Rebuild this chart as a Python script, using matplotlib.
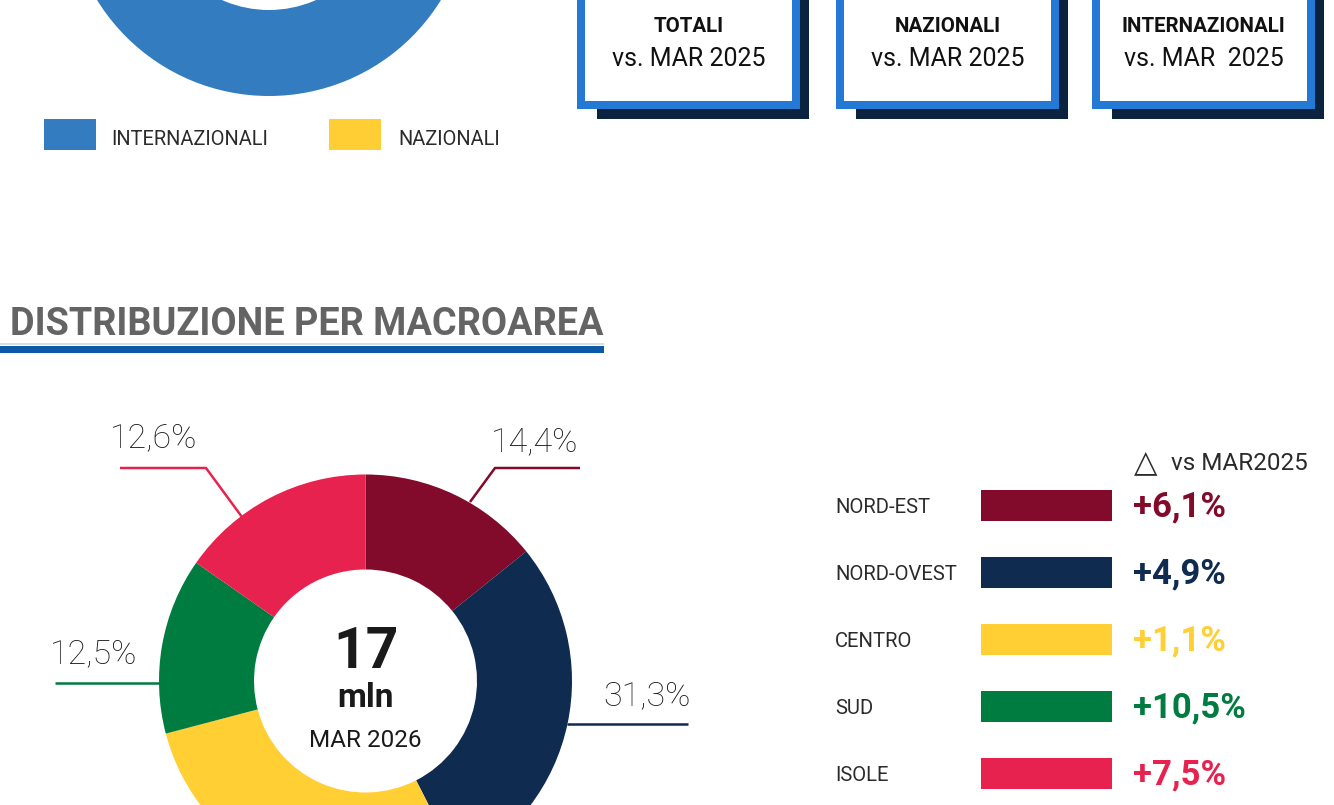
import matplotlib
matplotlib.use("Agg")
import matplotlib.pyplot as plt
from matplotlib.patches import Rectangle

plt.rcParams['font.family'] = ['Roboto', 'DejaVu Sans']

# --- dati ---
aree = ["NORD-EST", "NORD-OVEST", "CENTRO", "SUD", "ISOLE"]
# ampiezza delle fette come appaiono nel disegno (%)
quote_fette = [14.2, 28.3, 28.4, 13.8, 15.3]
etichette_quota = ["14,4%", "31,3%", "", "12,5%", "12,6%"]
variazioni = ["+6,1%", "+4,9%", "+1,1%", "+10,5%", "+7,5%"]
colori_aree = ["#820a2b", "#0f2b4f", "#ffcf33", "#007c40", "#e8224f"]

legenda_top = ["INTERNAZIONALI", "NAZIONALI"]
colori_top = ["#347cc0", "#ffce34"]
box_titoli = ["TOTALI", "NAZIONALI", "INTERNAZIONALI"]
box_sottotitoli = ["vs. MAR 2025", "vs. MAR 2025", "vs. MAR  2025"]

totale = "17"
unita = "mln"
periodo = "MAR 2026"

# --- figura in coordinate pixel ---
fig = plt.figure(figsize=(13.34, 8.05), dpi=100)
ax = fig.add_axes([0, 0, 1, 1])

TXT = "#2b2b2b"

# ciambella superiore (solo parte inferiore visibile)
ax.pie([1], colors=[colori_top[0]], center=(269, -106), radius=202,
       wedgeprops=dict(width=86, linewidth=0))

# legenda superiore
for x_r, x_t, lab, col in zip([44, 329], [111, 398], legenda_top, colori_top):
    ax.add_patch(Rectangle((x_r, 119), 52, 31, color=col, lw=0))
    ax.text(x_t, 145, lab, fontsize=14.4, color=TXT, weight='normal', va='baseline')

# riquadri in alto a destra
box_x = [577, 836, 1092]
for bx, tit, sub in zip(box_x, box_titoli, box_sottotitoli):
    ax.add_patch(Rectangle((bx + 20, -20), 212, 139, color="#0c2340", lw=0))
    ax.add_patch(Rectangle((bx, -20), 223, 129, color="#2379d4", lw=0))
    ax.add_patch(Rectangle((bx + 8, -20), 207, 121, color="white", lw=0))
    cx = bx + 111.5
    ax.text(cx, 32, tit, fontsize=14.8, weight='bold',
            color="#111111", ha='center', va='baseline')
    ax.text(cx, 66, sub, fontsize=18, weight='normal', color="#111111",
            ha='center', va='baseline')

# titolo sezione
ax.text(10, 335, "DISTRIBUZIONE PER MACROAREA", fontsize=27.3, weight='bold',
        color="#646464", va='baseline')
ax.add_patch(Rectangle((0, 343.5), 604, 1.2, color="#d9dde3", lw=0))
ax.add_patch(Rectangle((0, 346), 604, 7, color="#0a58a8", lw=0))

# ciambella macroaree
cx, cy, R = 365.5, 681, 206.5
ax.pie(quote_fette, colors=colori_aree, center=(cx, cy), radius=R,
       startangle=-90, counterclock=True,
       wedgeprops=dict(width=95, linewidth=0))

# linee guida ed etichette percentuali
guide = {
    "ISOLE": ([120, 206, 242], [468, 468, 517]),
    "NORD-EST": ([580, 495, 470], [468, 468, 502]),
    "SUD": ([55, 160], [683, 683]),
    "NORD-OVEST": ([567, 688], [723.5, 723.5]),
}
pos_etichette = {
    "ISOLE": (110, 447, 'left'),
    "NORD-EST": (578, 451, 'right'),
    "SUD": (50, 663, 'left'),
    "NORD-OVEST": (603, 705, 'left'),
}
for area, lab, col in zip(aree, etichette_quota, colori_aree):
    if area in guide:
        xs, ys = guide[area]
        ax.plot(xs, ys, color=col, lw=1.8, solid_capstyle='butt')
        x, y, ha = pos_etichette[area]
        ax.text(x, y, lab, fontsize=24.5, weight='light', color="#1a1a1a",
                ha=ha, va='baseline')

# testo centrale
ax.text(cx, 668, totale, fontsize=41, weight='bold',
        color="#1a1a1a", ha='center', va='baseline')
ax.text(cx, 707, unita, fontsize=24, weight='bold', color="#1a1a1a",
        ha='center', va='baseline')
ax.text(cx, 747, periodo, fontsize=17.5, weight='normal', color="#1a1a1a",
        ha='center', va='baseline')

# legenda destra con variazioni
ax.text(1134, 471, "\u25b3", fontsize=22, family=['DejaVu Sans'],
        color=TXT, va='baseline')
ax.text(1171, 470, "vs MAR2025", fontsize=17.5, weight='normal',
        color=TXT, va='baseline')
y_righe = [505.5, 572.5, 639.5, 706.5, 773.5]
ax.barh(y_righe, [131] * len(aree), left=981, height=31,
        color=colori_aree, linewidth=0)
for y, area, var, col in zip(y_righe, aree, variazioni, colori_aree):
    ax.text(835, y + 7.5, area, fontsize=14.6, weight='normal', color=TXT,
            va='baseline')
    ax.text(1133, y + 11, var, fontsize=25, weight='bold', color=col,
            va='baseline')

ax.set_xlim(0, 1334)
ax.set_ylim(805, 0)
ax.set_aspect('auto')
ax.axis('off')

fig.savefig("out.png", dpi=100, facecolor="white")
